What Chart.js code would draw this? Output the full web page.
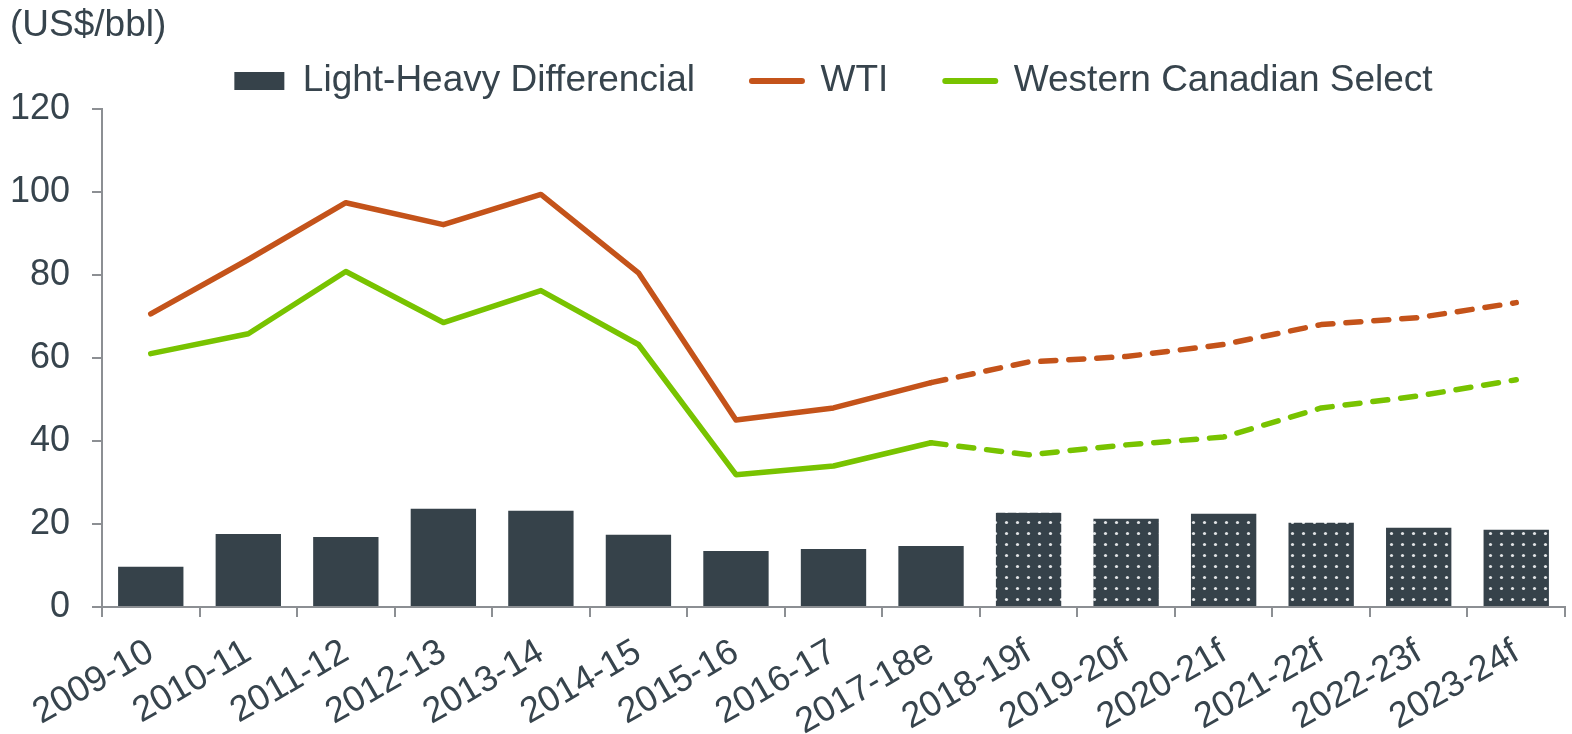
<!DOCTYPE html>
<html>
<head>
<meta charset="utf-8">
<script src="https://cdn.jsdelivr.net/npm/chart.js@4"></script>
<style>
  body { margin: 0; background: #fff; }
  #wrap { width: 1572px; height: 734px; }
</style>
</head>
<body>
<div id="wrap"><canvas id="myChart" width="1572" height="734"></canvas></div>
<script>
// categories (fiscal years, e = estimate, f = forecast)
var years = ['2009-10', '2010-11', '2011-12', '2012-13', '2013-14', '2014-15', '2015-16', '2016-17',
  '2017-18e', '2018-19f', '2019-20f', '2020-21f', '2021-22f', '2022-23f', '2023-24f'];

// US$/bbl
var differential = [9.7, 17.6, 16.9, 23.7, 23.2, 17.4, 13.5, 14.0, 14.7, 22.7, 21.3, 22.5, 20.3, 19.1, 18.6];
var wti = [70.7, 83.8, 97.5, 92.2, 99.5, 80.6, 45.1, 48.0, 54.1, 59.1, 60.4, 63.3, 68.1, 69.8, 73.4];
var wcs = [61.1, 65.9, 80.9, 68.6, 76.3, 63.3, 31.9, 34.0, 39.6, 36.7, 39.1, 41.0, 48.0, 50.9, 54.8];

var yTicks = [0, 20, 40, 60, 80, 100, 120];
var firstForecast = 9; // index of first forecast year

var barColor = '#36424a';
var wtiColor = '#c4531a';
var wcsColor = '#78c300';
var textColor = '#37444d';
var axisColor = '#8c8f93';

// dotted fill for the forecast bars
var pc = document.createElement('canvas');
pc.width = 11; pc.height = 11;
var pctx = pc.getContext('2d');
pctx.fillStyle = barColor;
pctx.fillRect(0, 0, 11, 11);
pctx.fillStyle = '#e2e4e6';
pctx.beginPath();
pctx.arc(5.5, 5.5, 1.6, 0, Math.PI * 2);
pctx.fill();

var ctx = document.getElementById('myChart').getContext('2d');
var dotted = ctx.createPattern(pc, 'repeat');

var barFills = years.map(function (y, i) { return i >= firstForecast ? dotted : barColor; });

var dashed = function (c) { return c.p0DataIndex >= firstForecast - 1 ? [15, 13] : undefined; };

var chart = new Chart(ctx, {
  data: {
    labels: years,
    datasets: [{
      type: 'bar',
      label: 'Light-Heavy Differencial',
      data: differential,
      backgroundColor: barFills,
      barPercentage: 0.67,
      categoryPercentage: 1,
      order: 2
    }, {
      type: 'line',
      label: 'WTI',
      data: wti,
      borderColor: wtiColor,
      borderWidth: 5.5,
      borderCapStyle: 'round',
      borderJoinStyle: 'round',
      pointRadius: 0,
      tension: 0,
      segment: { borderDash: dashed },
      order: 1
    }, {
      type: 'line',
      label: 'Western Canadian Select',
      data: wcs,
      borderColor: wcsColor,
      borderWidth: 5.5,
      borderCapStyle: 'round',
      borderJoinStyle: 'round',
      pointRadius: 0,
      tension: 0,
      segment: { borderDash: dashed },
      order: 1
    }]
  },
  options: {
    responsive: false,
    animation: false,
    layout: { padding: { left: 10, right: 7, top: 0, bottom: 0 } },
    plugins: {
      tooltip: { enabled: false },
      title: {
        display: true,
        text: '(US$/bbl)',
        align: 'start',
        color: textColor,
        font: { family: 'Liberation Sans', size: 37, weight: 'normal' },
        padding: { top: 4, bottom: -43 }
      },
      legend: {
        display: true,
        fullSize: false,
        labels: {
          color: textColor,
          font: { family: 'Liberation Sans', size: 37 },
          usePointStyle: true,
          pointStyleWidth: 50,
          boxHeight: 18,
          padding: 57,
          generateLabels: function (c) {
            return c.data.datasets.map(function (ds, i) {
              var isBar = ds.type === 'bar';
              return {
                text: ds.label,
                fillStyle: isBar ? barColor : ds.borderColor,
                strokeStyle: isBar ? barColor : ds.borderColor,
                lineWidth: isBar ? 0 : 6,
                lineCap: 'round',
                pointStyle: isBar ? 'rect' : 'line',
                fontColor: textColor,
                datasetIndex: i,
                hidden: false
              };
            });
          }
        }
      }
    },
    scales: {
      x: {
        offset: true,
        afterFit: function (s) { s.height = 127; s.paddingLeft = 0; s.paddingRight = 0; },
        grid: { display: true, drawOnChartArea: false, offset: true, tickLength: 10, color: axisColor, lineWidth: 2 },
        border: { display: true, color: axisColor, width: 2 },
        ticks: {
          color: textColor,
          font: { family: 'Liberation Sans', size: 36 },
          minRotation: 30,
          maxRotation: 30,
          autoSkip: false,
          padding: 14
        }
      },
      y: {
        min: 0,
        max: 120,
        afterFit: function (s) { s.width = 92; },
        afterBuildTicks: function (axis) {
          axis.ticks = yTicks.map(function (v) { return { value: v }; });
        },
        grid: { display: true, drawOnChartArea: false, tickLength: 10, color: axisColor, lineWidth: 2 },
        border: { display: true, color: axisColor, width: 2 },
        ticks: {
          color: textColor,
          font: { family: 'Liberation Sans', size: 36 },
          padding: 22
        }
      }
    }
  }
});
</script>
</body>
</html>
